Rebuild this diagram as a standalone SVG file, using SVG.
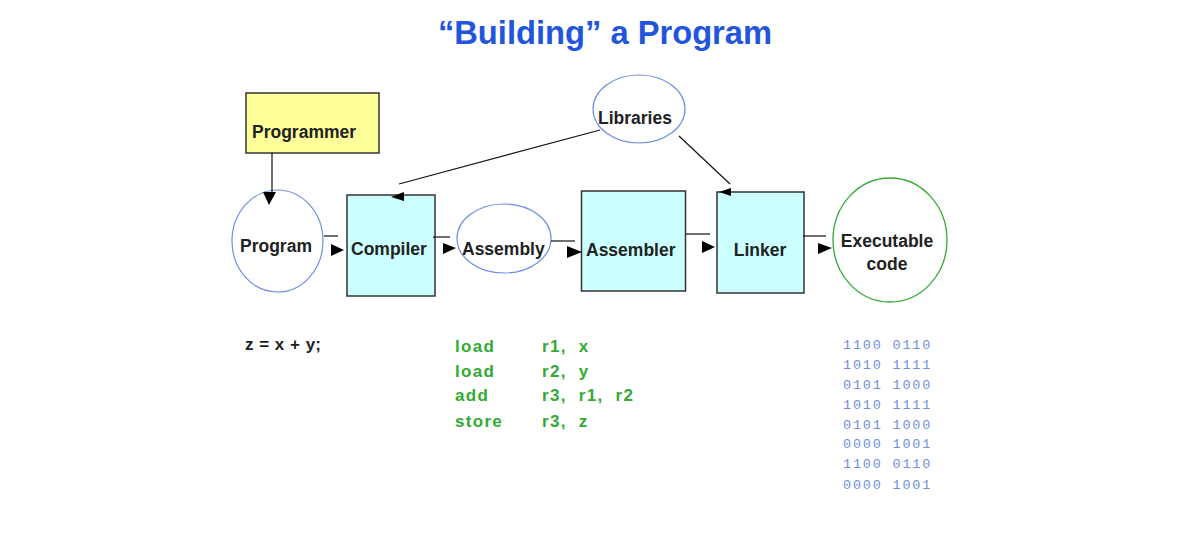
<svg xmlns="http://www.w3.org/2000/svg" width="1177" height="549" viewBox="0 0 1177 549">
<style>
.lbl{font-family:"Liberation Sans",Arial,sans-serif;font-weight:bold;font-size:17.5px;fill:#222}
.box{fill:#ccffff;stroke:#333;stroke-width:1.5}
.ell{fill:#fff;stroke:#6f8fdf;stroke-width:1.2}
.ln{stroke:#111;stroke-width:1.2;fill:none}
.ah{fill:#000}
.asm{font-family:"Liberation Sans",Arial,sans-serif;font-weight:bold;font-size:17px;fill:#33aa33;letter-spacing:1.3px;white-space:pre}
.bin{font-family:"Liberation Mono","DejaVu Sans Mono",monospace;font-size:13.5px;fill:#6f8fdf;letter-spacing:1.8px}
</style>
<rect width="1177" height="549" fill="#fff"/>
<text x="605" y="44" text-anchor="middle" font-family="Liberation Sans,Arial,sans-serif" font-weight="bold" font-size="32.7" fill="#2255dd">“Building” a Program</text>

<g id="programmer">
<rect x="246" y="93" width="133" height="60" fill="#ffff99" stroke="#333" stroke-width="1.5"/>
<text class="lbl" x="252" y="138">Programmer</text>
</g>
<g id="program">
<ellipse class="ell" cx="277.5" cy="241" rx="45.5" ry="51"/>
<text class="lbl" x="240" y="252">Program</text>
</g>
<g id="compiler">
<rect class="box" x="347" y="195" width="88" height="101"/>
<text class="lbl" x="351" y="255">Compiler</text>
</g>
<g id="assembly">
<ellipse class="ell" cx="504" cy="238.5" rx="47" ry="34.5"/>
<text class="lbl" x="462" y="255">Assembly</text>
</g>
<g id="assembler">
<rect class="box" x="581.5" y="191" width="104" height="100"/>
<text class="lbl" x="586" y="256">Assembler</text>
</g>
<g id="linker">
<rect class="box" x="717" y="192" width="87" height="101"/>
<text class="lbl" x="760" y="256" text-anchor="middle">Linker</text>
</g>
<g id="executable">
<ellipse cx="890" cy="240" rx="57" ry="62" fill="#fff" stroke="#33aa33" stroke-width="1.3"/>
<text class="lbl" x="887" y="247" text-anchor="middle">Executable</text>
<text class="lbl" x="887" y="270" text-anchor="middle">code</text>
</g>
<g id="libraries">
<ellipse class="ell" cx="639" cy="109" rx="46" ry="34"/>
<text class="lbl" x="598" y="124">Libraries</text>
</g>

<g id="connectors">
<line class="ln" x1="272" y1="153" x2="272" y2="192"/>
<polygon class="ah" points="263,192 276,192 269,205"/>
<line class="ln" x1="324" y1="236" x2="338" y2="236"/>
<polygon class="ah" points="331,244 331,256 344,250"/>
<line class="ln" x1="433" y1="237" x2="450" y2="237"/>
<polygon class="ah" points="443,243 443,254 456,248"/>
<line class="ln" x1="551" y1="241" x2="575" y2="241"/>
<polygon class="ah" points="567,246 567,258 582,252"/>
<line class="ln" x1="686" y1="234" x2="710" y2="234"/>
<polygon class="ah" points="702,241 702,253 715,247"/>
<line class="ln" x1="803" y1="236" x2="826" y2="236"/>
<polygon class="ah" points="818,243 818,254 832,248"/>
<line class="ln" x1="600" y1="130" x2="399" y2="184"/>
<polygon class="ah" points="391,197 404,192 404,201"/>
<line class="ln" x1="679" y1="136" x2="730" y2="184"/>
<polygon class="ah" points="719,192 731,188 731,196"/>
</g>

<text x="245" y="350" font-family="Liberation Sans,Arial,sans-serif" font-weight="bold" font-size="17" fill="#222" word-spacing="1">z = x + y;</text>

<g id="asm-code">
<text class="asm" x="455" y="352">load</text><text class="asm" x="542" y="352" xml:space="preserve">r1,  x</text>
<text class="asm" x="455" y="377">load</text><text class="asm" x="542" y="377" xml:space="preserve">r2,  y</text>
<text class="asm" x="455" y="401">add</text><text class="asm" x="542" y="401" xml:space="preserve">r3,  r1,  r2</text>
<text class="asm" x="455" y="427">store</text><text class="asm" x="542" y="427" xml:space="preserve">r3,  z</text>
</g>

<g id="machine-code">
<text class="bin" x="843" y="349">1100 0110</text>
<text class="bin" x="843" y="369">1010 1111</text>
<text class="bin" x="843" y="389">0101 1000</text>
<text class="bin" x="843" y="409">1010 1111</text>
<text class="bin" x="843" y="429">0101 1000</text>
<text class="bin" x="843" y="448">0000 1001</text>
<text class="bin" x="843" y="468">1100 0110</text>
<text class="bin" x="843" y="489">0000 1001</text>
</g>
</svg>
